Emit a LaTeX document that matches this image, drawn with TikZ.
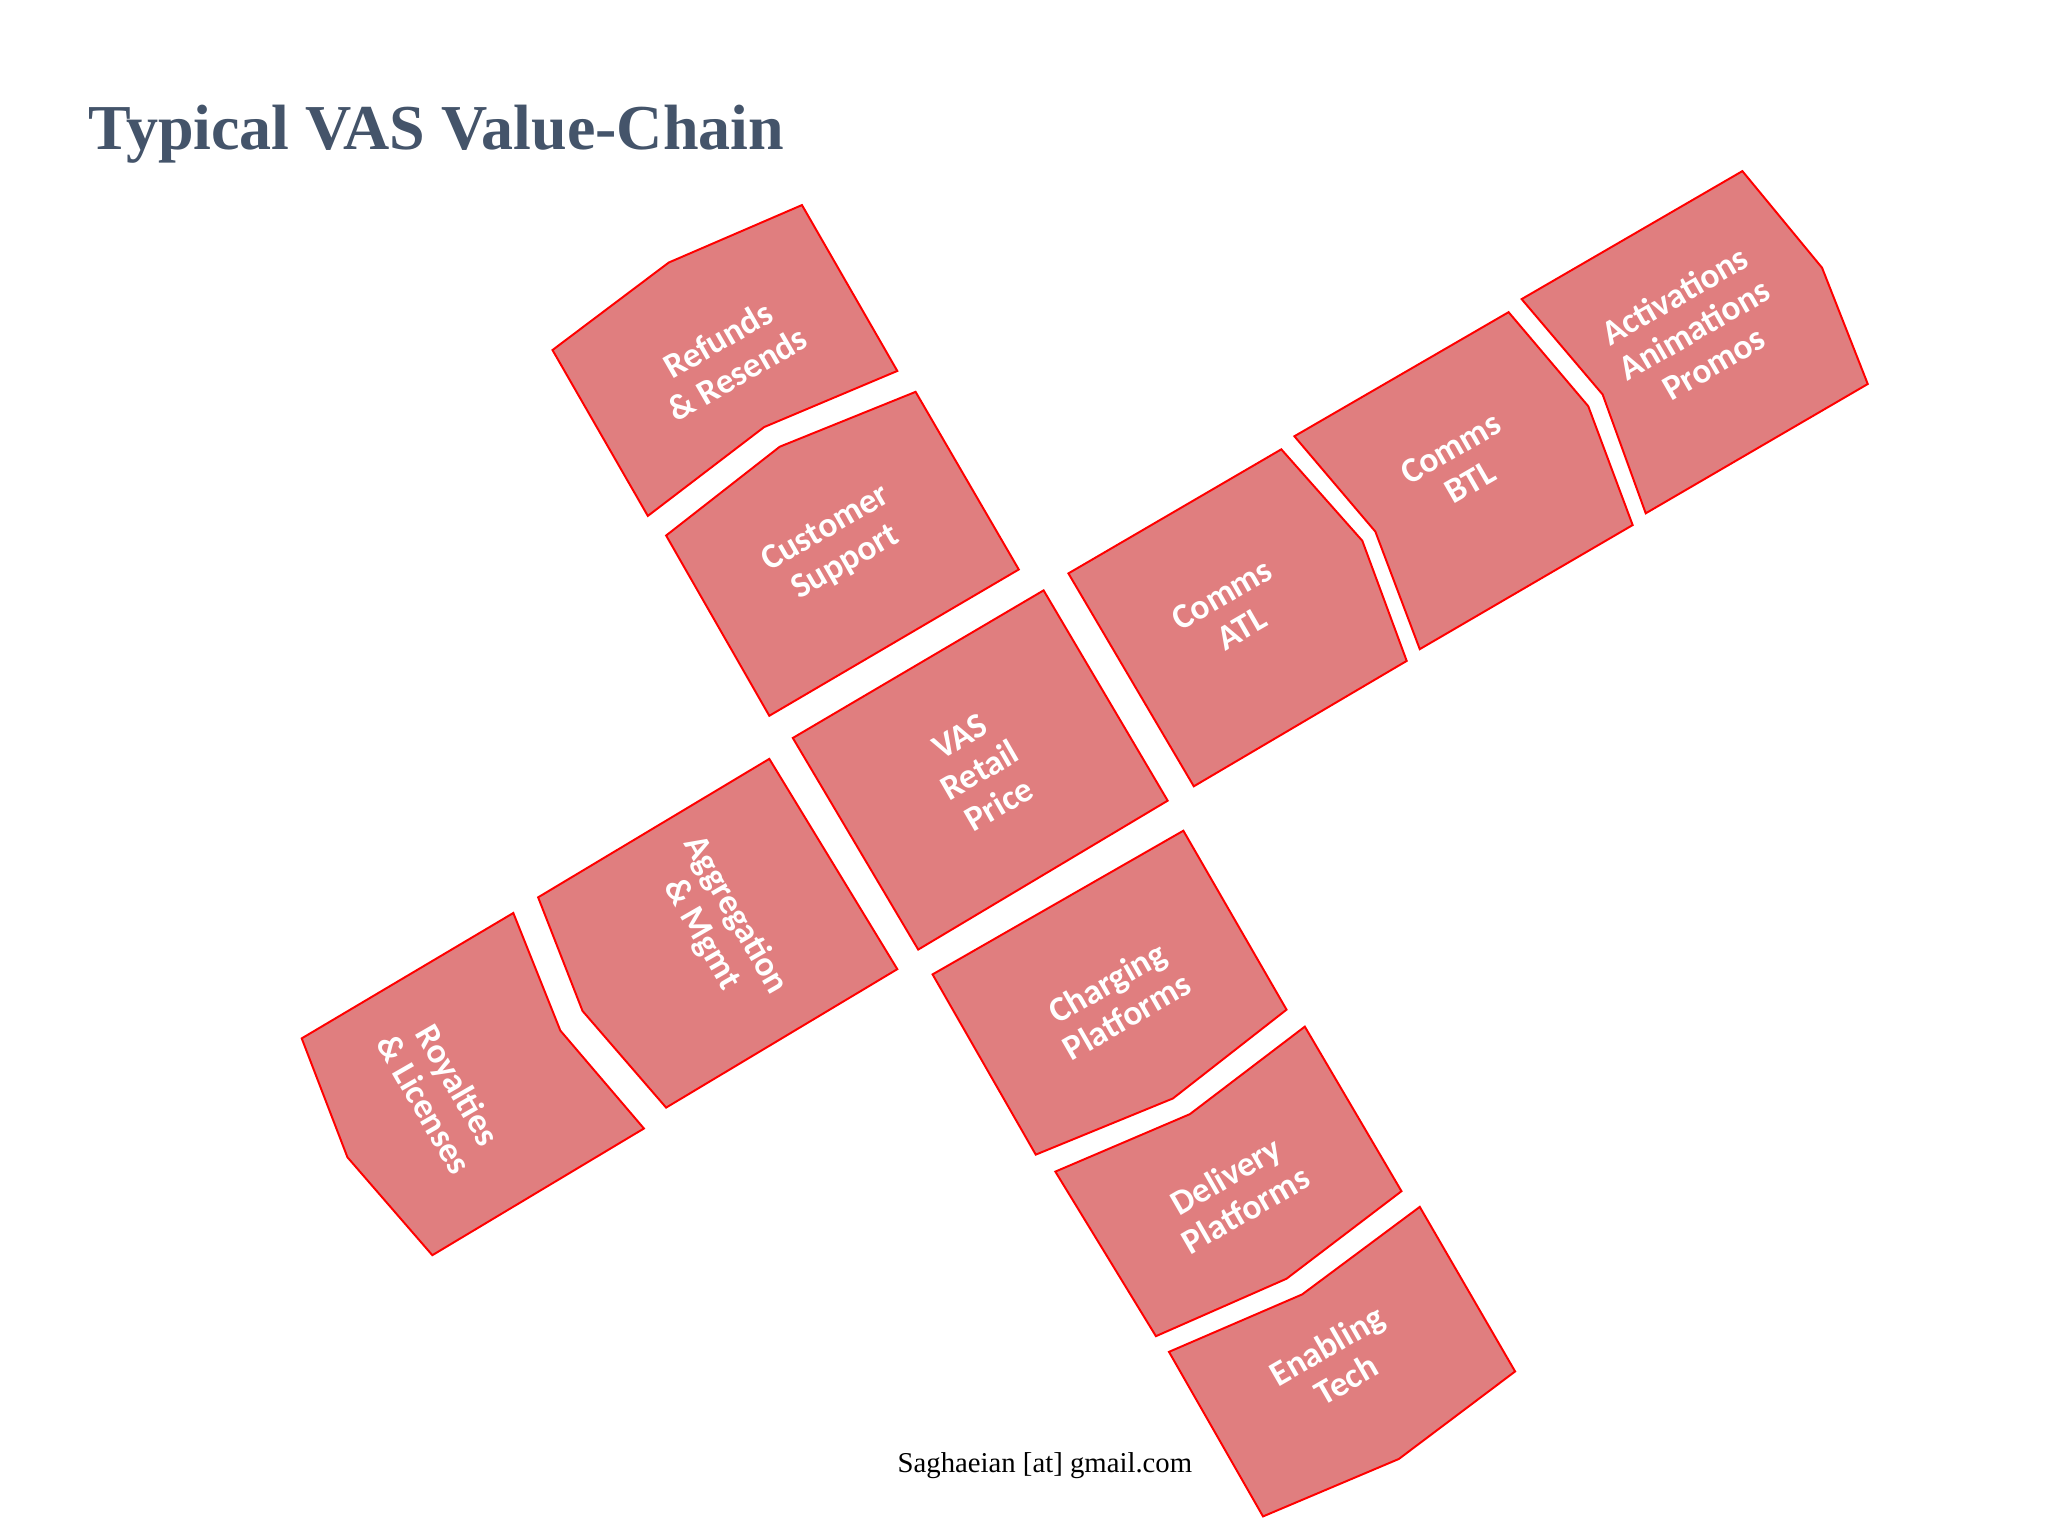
\documentclass[tikz,border=0pt]{standalone}
\usepackage{fontspec}
\setmainfont{Liberation Serif}
\newfontfamily\lab{Carlito}
\definecolor{boxfill}{HTML}{E07E7F}
\definecolor{titlec}{HTML}{44546A}
\tikzset{pc/.style={fill=boxfill,draw=red,line width=1.5pt,line join=miter},
 lbl/.style={text=white,font=\lab\bfseries\fontsize{27}{30}\selectfont,align=center,rotate=30}}
\begin{document}
\begin{tikzpicture}[x=1pt,y=-1pt]
\useasboundingbox (0,0) rectangle (1568,1176);
\fill[white] (0,0) rectangle (1568,1176);
\node[anchor=west,text=titlec,font=\bfseries\fontsize{49}{54}\selectfont] (title) at (64,103) {Typical VAS Value-Chain};
\draw[pc] (423,268)--(512,201)--(614,157)--(687,284)--(585,327)--(496,395)--cycle;
\draw[pc] (510,410)--(597,342)--(701,300)--(780,436)--(589,548)--cycle;
\draw[pc] (607,565)--(799,452)--(894,613)--(703,727)--cycle;
\draw[pc] (818,439)--(981,344)--(1043,414)--(1077,506)--(914,602)--cycle;
\draw[pc] (991,334)--(1155,239)--(1216,311)--(1250,402)--(1087,497)--(1053,407)--cycle;
\draw[pc] (1165,229)--(1334,131)--(1395,205)--(1430,294)--(1260,393)--(1227,302)--cycle;
\draw[pc] (412,687)--(589,581)--(687,742)--(510,848)--(446,774)--cycle;
\draw[pc] (231,795)--(393,699)--(429,789)--(493,864)--(331,961)--(266,886)--cycle;
\draw[pc] (714,746)--(906,636)--(985,773)--(898,841)--(793,884)--cycle;
\draw[pc] (808,897)--(911,853)--(999,786)--(1073,912)--(985,979)--(885,1023)--cycle;
\draw[pc] (895,1035)--(997,991)--(1087,924)--(1160,1050)--(1071,1117)--(967,1161)--cycle;
\node[lbl] (refunds) at (557,273) {Refunds\\\& Resends};
\node[lbl] (cs) at (640,418) {Customer\\Support};
\node[lbl] (vas) at (750,590) {VAS\\Retail\\Price};
\node[lbl] (atl) at (943,468) {Comms\\ATL};
\node[lbl] (btl) at (1118,356) {Comms\\BTL};
\node[lbl] (act) at (1297,252) {Activations\\Animations\\Promos};
\node[lbl,rotate=-90] (agg) at (550,708) {Aggregation\\\& Mgmt};
\node[lbl,rotate=-90] (roy) at (338,838) {Royalties\\\& Licenses};
\node[lbl] (chg) at (855,765) {Charging\\Platforms};
\node[lbl] (del) at (946,913) {Delivery\\Platforms};
\node[lbl] (ena) at (1023,1043) {Enabling\\Tech};
\node[font=\fontsize{22}{26}\selectfont] (foot) at (800,1122) {Saghaeian [at] gmail.com};
\end{tikzpicture}
\end{document}
